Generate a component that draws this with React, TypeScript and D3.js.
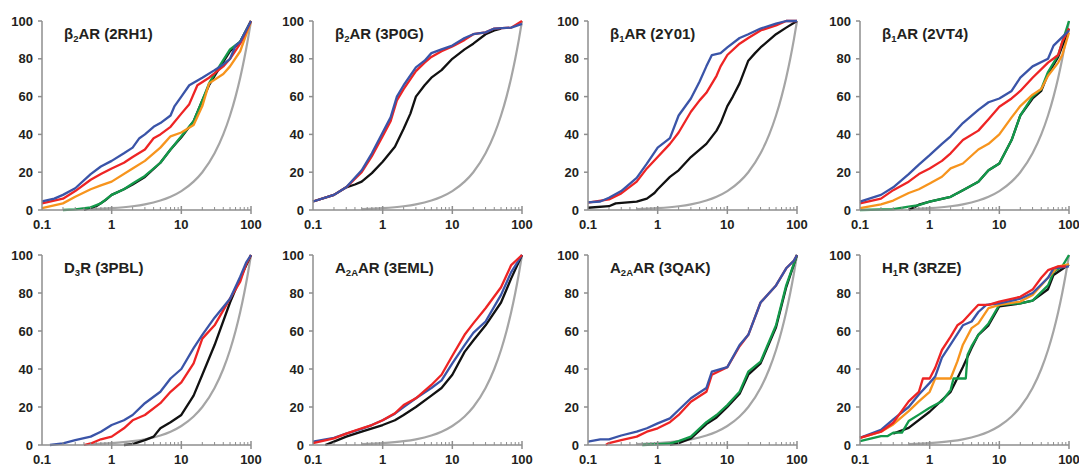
import React from "react";
import * as d3 from "d3";

type Pt = [number, number];

// ---- tick labels ----
const xTickValues = [0.1, 1, 10, 100];
const xTickLabels = ["0.1", "1", "10", "100"];
const yTickValues = [0, 20, 40, 60, 80, 100];

// ---- titles: [main, subscript, rest] ----
const titles: [string, string, string][] = [
  ["β", "2", "AR (2RH1)"],
  ["β", "2", "AR (3P0G)"],
  ["β", "1", "AR (2Y01)"],
  ["β", "1", "AR (2VT4)"],
  ["D", "3", "R (3PBL)"],
  ["A", "2A", "AR (3EML)"],
  ["A", "2A", "AR (3QAK)"],
  ["H", "1", "R (3RZE)"],
];

// ---- random reference curve ----
const grayRef: Pt[] = [[0.5,0.5],[1,1],[2,2],[3,3],[5,5],[7,7],[10,10],[15,15],[20,20],[30,30],[40,40],[50,50],[60,60],[70,70],[80,80],[90,90],[100,100]];

// ---- panel 1: β2AR (2RH1) ----
const p1Blue: Pt[] = [[0.1,4.5],[0.15,6],[0.2,8],[0.3,11.5],[0.5,19],[0.7,23],[1,26],[1.5,30],[2,33],[2.5,38],[3,40],[4,44],[5,46],[7,50],[8,55],[10,60],[13,66],[20,70],[30,74],[40,77],[50,80],[60,87],[70,89],[100,100]];
const p1Red: Pt[] = [[0.1,3.5],[0.2,6],[0.3,10],[0.5,16],[0.7,19],[1,22],[1.5,25],[2,28],[3,32],[4,38],[5,40],[7,44],[10,51],[13,56],[17,66],[25,70],[40,76],[50,80],[70,88],[100,100]];
const p1Orange: Pt[] = [[0.1,1],[0.2,3.5],[0.3,7],[0.5,11],[0.7,13],[1,15],[2,22],[3,26],[5,33],[7,39],[10,41],[15,45],[20,55],[25,67],[40,72],[50,76],[70,84],[100,100]];
const p1Green: Pt[] = [[0.2,0],[0.3,0.3],[0.5,1.4],[0.7,3.5],[1,8],[1.5,11],[2,14],[3,18],[5,25],[7,32],[10,39],[15,47],[20,58],[25,67],[30,72],[50,85],[70,89],[100,100]];
const p1Black: Pt[] = [[0.4,0],[0.6,2],[0.8,5],[1,8],[1.5,11],[2,13.5],[3,17.5],[5,25],[7,32],[10,38.5],[15,47],[20,58],[25,66],[30,71],[50,84],[70,89],[100,100]];

// ---- panel 2: β2AR (3P0G) ----
const p2Blue: Pt[] = [[0.1,4.5],[0.2,8],[0.3,12],[0.5,21],[0.7,30],[1,41],[1.3,49],[1.6,60],[2,66],[3,75.5],[4,79],[5,83],[7,85],[10,87],[15,91],[20,93],[30,94],[40,96],[70,96.5],[100,98.5]];
const p2Red: Pt[] = [[0.1,4.5],[0.2,8],[0.3,12],[0.5,20],[0.7,28.5],[1,39],[1.3,47],[1.6,58],[2,64],[3,73.5],[4,78],[5,81],[7,84],[10,86.5],[15,90],[20,93],[30,94],[40,96],[70,96.5],[100,100]];
const p2Black: Pt[] = [[0.1,4.5],[0.2,8],[0.3,12],[0.4,13.5],[0.5,15],[0.7,19.5],[1,25.5],[1.5,33.5],[2,43],[2.5,51],[3,60],[4,66],[5,70],[7,74],[10,80],[15,85],[20,88],[30,93],[40,95],[50,96]];

// ---- panel 3: β1AR (2Y01) ----
const p3Blue: Pt[] = [[0.1,4],[0.15,4.5],[0.2,6.5],[0.3,10],[0.5,17],[0.7,24.5],[1,33],[1.5,38],[2,50],[3,59],[4,68],[5,76],[6,82],[8,83],[10,86],[15,91],[20,93],[30,96],[50,98.6],[70,100],[100,100]];
const p3Red: Pt[] = [[0.1,3.9],[0.2,5.6],[0.3,8.8],[0.5,15],[0.7,22],[1,28],[1.5,35],[2,41],[3,52],[4,58],[5,62],[7,71],[8,76],[10,82],[15,88],[20,91],[30,95],[50,97.7],[70,100],[100,100]];
const p3Black: Pt[] = [[0.1,1.2],[0.2,2],[0.25,3.5],[0.5,4.4],[0.7,6],[0.9,9],[1,11],[1.5,17.5],[2,21],[3,28],[5,35],[7,42],[8,46],[10,55],[12,60],[15,67],[20,79],[25,83],[30,86],[50,93],[70,96.5],[100,100]];

// ---- panel 4: β1AR (2VT4) ----
const p4Blue: Pt[] = [[0.1,4.4],[0.2,8],[0.3,12],[0.5,19],[0.7,24],[1,29],[1.5,35],[2,39],[3,46],[5,53],[7,57],[10,59],[15,63],[20,70],[30,76],[50,80],[60,87],[80,91.5],[100,95]];
const p4Red: Pt[] = [[0.1,3.5],[0.2,6],[0.3,10.5],[0.5,15],[0.7,19],[1,22],[1.5,26],[2,30],[3,37],[5,42],[7,48],[10,54.6],[15,59],[20,63],[30,70],[50,78],[70,82],[80,89],[100,96]];
const p4Orange: Pt[] = [[0.1,1],[0.2,3],[0.3,5],[0.5,9],[0.7,11],[1,14],[1.5,17.6],[2,22],[3,24.6],[5,32],[7,35],[10,40],[15,49],[20,55],[30,61],[40,64],[50,71],[70,78],[80,82],[100,94]];
const p4Green: Pt[] = [[0.1,0],[0.3,0.4],[0.5,1.8],[0.7,2.6],[1,4.4],[2,7],[3,10.5],[5,15],[7,21],[10,24.6],[15,37],[20,50],[30,60],[40,64],[50,73],[70,82],[100,100]];
const p4Black: Pt[] = [[0.5,0],[0.6,1.5],[0.7,2.8],[1,4.4],[2,7],[3,10.5],[5,15],[7,21],[10,24.6],[15,37],[20,50],[30,59],[40,63],[50,72],[70,81],[100,96]];

// ---- panel 5: D3R (3PBL) ----
const p5Blue: Pt[] = [[0.13,0],[0.2,0.9],[0.3,2.6],[0.5,4.4],[0.7,7],[1,10.5],[1.5,13],[2,15.8],[3,22],[5,28],[7,35],[10,40],[15,51],[20,58],[30,67],[50,77],[70,88.6],[85,96],[100,100]];
const p5Red: Pt[] = [[0.4,0],[0.5,0.8],[0.7,3],[1,4.4],[1.5,8.8],[2,13],[3,15.8],[5,22],[7,28],[10,33],[15,43],[20,56],[30,63],[50,77],[70,86],[85,95],[100,100]];
const p5Black: Pt[] = [[1.5,0],[2,0.5],[3,2.6],[4,4.4],[5,8.8],[7,12],[10,15.8],[15,26],[20,37],[30,52.6],[50,75],[70,87.7],[100,100]];

// ---- panel 6: A2AAR (3EML) ----
const p6Red: Pt[] = [[0.1,1],[0.2,3.5],[0.3,6],[0.5,8.8],[0.7,10.5],[1,13],[1.5,16.7],[2,21],[3,24.6],[5,31.6],[7,37],[10,47],[15,58],[20,64],[30,72],[50,83],[70,94.7],[100,100]];
const p6Blue: Pt[] = [[0.1,1.8],[0.2,3.8],[0.3,6],[0.5,8.5],[0.7,10.5],[1,13],[1.5,16.5],[2,20],[3,24.6],[5,30],[7,34],[10,43],[15,52.6],[20,59],[30,65],[50,79],[70,91],[100,100]];
const p6Black: Pt[] = [[0.15,0],[0.2,1.8],[0.3,4.4],[0.5,7],[1,10.5],[1.5,13],[2,15.8],[3,20],[5,26],[7,30],[10,37],[15,49],[20,55],[30,63],[50,75],[70,87.7],[100,100]];

// ---- panel 7: A2AAR (3QAK) ----
const p7Blue: Pt[] = [[0.1,1.8],[0.15,3],[0.2,3],[0.3,5],[0.5,7],[0.7,8.8],[1,11.4],[1.5,14],[2,18.4],[3,24.6],[5,30],[6,38.6],[10,41],[15,52.6],[20,58],[30,75],[50,84],[70,93],[90,97],[100,100]];
const p7Red: Pt[] = [[0.18,0],[0.2,1],[0.3,2.6],[0.5,4.4],[0.7,7],[1,8.8],[1.5,12],[2,15.8],[3,22.8],[5,28],[6,37],[10,41],[15,52],[20,58],[30,75],[50,84],[70,93],[90,97],[100,100]];
const p7Green: Pt[] = [[0.6,0],[1,0.4],[1.5,0.8],[2,2],[3,4.4],[5,12],[7,15.8],[10,21],[15,28],[20,38.6],[30,43.9],[50,63],[70,84],[100,100]];
const p7Black: Pt[] = [[1.5,0],[2,1],[3,3.5],[5,11],[7,14.5],[10,20],[15,27],[20,37],[30,43],[50,62],[70,83],[100,100]];

// ---- panel 8: H1R (3RZE) ----
const p8Red: Pt[] = [[0.1,3.8],[0.2,7],[0.3,11.7],[0.5,23],[0.7,28],[0.8,35],[1,35],[1.2,40.6],[1.5,50],[2,57],[2.5,63],[3,65],[4,70],[5,73.8],[7,73.8],[10,75.5],[20,78],[30,81.8],[40,88],[50,92],[70,94],[90,94]];
const p8Blue: Pt[] = [[0.1,3.8],[0.2,8],[0.3,13.5],[0.5,20],[0.7,26.6],[1,32.7],[1.2,36],[1.5,46],[2,53],[3,63],[4,65],[5,70],[6.5,73.8],[10,74.6],[20,77],[30,80],[50,88],[60,93],[100,94]];
const p8Orange: Pt[] = [[0.1,3.8],[0.2,7],[0.3,10.8],[0.5,17.8],[0.7,23],[1,28],[1.2,35],[2,35],[2.5,44],[3,52.8],[4,61.5],[5,64],[7,72],[10,73.8],[20,75.5],[30,79],[50,88],[70,94],[100,95]];
const p8Green: Pt[] = [[0.1,2],[0.2,4.7],[0.25,4.7],[0.3,6.5],[0.4,6.5],[0.5,12.6],[0.7,16],[1,19.6],[1.5,23],[2,29],[2.2,35],[3.3,35],[3.5,47.5],[4,52],[5,58],[7,64],[10,73.8],[20,74.6],[30,76],[50,84],[60,91],[80,94],[100,100]];
const p8Black: Pt[] = [[0.3,6],[0.5,9],[1,17.5],[2,28],[3,41],[4,51],[5,58],[7,63],[10,73],[20,74.5],[30,76],[50,82],[60,89.5],[100,95]];

// ---- styles ----
const COLORS = {
  blue: "#3a54a8",
  red: "#ee2424",
  orange: "#f7941d",
  green: "#13994a",
  black: "#111111",
  gray: "#a5a5a5",
};
const AXIS = "#8e8e8e";
const FONT = "'Liberation Sans', Arial, Helvetica, sans-serif";

type Series = { color: string; data: Pt[] };
const panelSeries: Series[][] = [
  [{ color: COLORS.black, data: p1Black }, { color: COLORS.green, data: p1Green }, { color: COLORS.orange, data: p1Orange }, { color: COLORS.red, data: p1Red }, { color: COLORS.blue, data: p1Blue }],
  [{ color: COLORS.black, data: p2Black }, { color: COLORS.red, data: p2Red }, { color: COLORS.blue, data: p2Blue }],
  [{ color: COLORS.black, data: p3Black }, { color: COLORS.red, data: p3Red }, { color: COLORS.blue, data: p3Blue }],
  [{ color: COLORS.black, data: p4Black }, { color: COLORS.green, data: p4Green }, { color: COLORS.orange, data: p4Orange }, { color: COLORS.red, data: p4Red }, { color: COLORS.blue, data: p4Blue }],
  [{ color: COLORS.black, data: p5Black }, { color: COLORS.red, data: p5Red }, { color: COLORS.blue, data: p5Blue }],
  [{ color: COLORS.black, data: p6Black }, { color: COLORS.blue, data: p6Blue }, { color: COLORS.red, data: p6Red }],
  [{ color: COLORS.black, data: p7Black }, { color: COLORS.green, data: p7Green }, { color: COLORS.red, data: p7Red }, { color: COLORS.blue, data: p7Blue }],
  [{ color: COLORS.black, data: p8Black }, { color: COLORS.green, data: p8Green }, { color: COLORS.orange, data: p8Orange }, { color: COLORS.blue, data: p8Blue }, { color: COLORS.red, data: p8Red }],
];

// ---- layout ----
const W = 1079;
const H = 467;
const colX = [42, 313, 588, 860];
const rowY: [number, number][] = [[21, 210], [255, 445]];
const plotW = 209;

const minorTicks: number[] = [];
[0.1, 1, 10].forEach((d) => {
  for (let k = 2; k <= 9; k++) minorTicks.push(d * k);
});

function Panel({ idx }: { idx: number }) {
  const col = idx % 4;
  const row = Math.floor(idx / 4);
  const x0 = colX[col];
  const [yTop, yBot] = rowY[row];
  const x = d3.scaleLog().domain([0.1, 100]).range([x0, x0 + plotW]);
  const y = d3.scaleLinear().domain([0, 100]).range([yBot, yTop]);
  const line = d3
    .line<Pt>()
    .x((d) => x(d[0]))
    .y((d) => y(d[1]));
  const smooth = d3
    .line<Pt>()
    .x((d) => x(d[0]))
    .y((d) => y(d[1]))
    .curve(d3.curveMonotoneX);
  const t = titles[idx];
  return (
    <g>
      <path d={smooth(grayRef) || ""} fill="none" stroke={COLORS.gray} strokeWidth={2.2} />
      {panelSeries[idx].map((s, i) => (
        <path key={i} d={line(s.data) || ""} fill="none" stroke={s.color} strokeWidth={2.3} strokeLinejoin="round" />
      ))}
      <line x1={x0} x2={x0} y1={yTop} y2={yBot} stroke={AXIS} strokeWidth={1.5} />
      <line x1={x0} x2={x0 + plotW} y1={yBot} y2={yBot} stroke={AXIS} strokeWidth={1.5} />
      {yTickValues.map((v) => (
        <g key={"y" + v}>
          <line x1={x0 - 4} x2={x0} y1={y(v)} y2={y(v)} stroke={AXIS} strokeWidth={1.5} />
          <text x={x0 - 9} y={y(v) + 4.5} textAnchor="end" fontFamily={FONT} fontWeight="bold" fontSize={13} fill="#231f20">
            {v}
          </text>
        </g>
      ))}
      {minorTicks.map((v) => (
        <line key={"m" + v} x1={x(v)} x2={x(v)} y1={yBot - 3} y2={yBot} stroke={AXIS} strokeWidth={1} />
      ))}
      {xTickValues.slice(1).map((v) => (
        <line key={"M" + v} x1={x(v)} x2={x(v)} y1={yBot - 4} y2={yBot + 4} stroke={AXIS} strokeWidth={1.5} />
      ))}
      {xTickValues.map((v, i) => (
        <text key={"x" + v} x={x(v)} y={yBot + 19} textAnchor="middle" fontFamily={FONT} fontWeight="bold" fontSize={13} fill="#231f20">
          {xTickLabels[i]}
        </text>
      ))}
      <text x={x0 + 22} y={yTop + 18} fontFamily={FONT} fontWeight="bold" fontSize={15} fill="#231f20">
        {t[0]}
        <tspan fontSize={9.5} dy={3}>{t[1]}</tspan>
        <tspan dy={-3}>{t[2]}</tspan>
      </text>
    </g>
  );
}

export default function App() {
  return (
    <svg
      width={W}
      height={H}
      viewBox={`0 0 ${W} ${H}`}
      style={{ position: "absolute", left: 0, top: 0, background: "#fff" }}
    >
      <rect x={0} y={0} width={W} height={H} fill="#fff" />
      {titles.map((_, i) => (
        <Panel key={i} idx={i} />
      ))}
    </svg>
  );
}
